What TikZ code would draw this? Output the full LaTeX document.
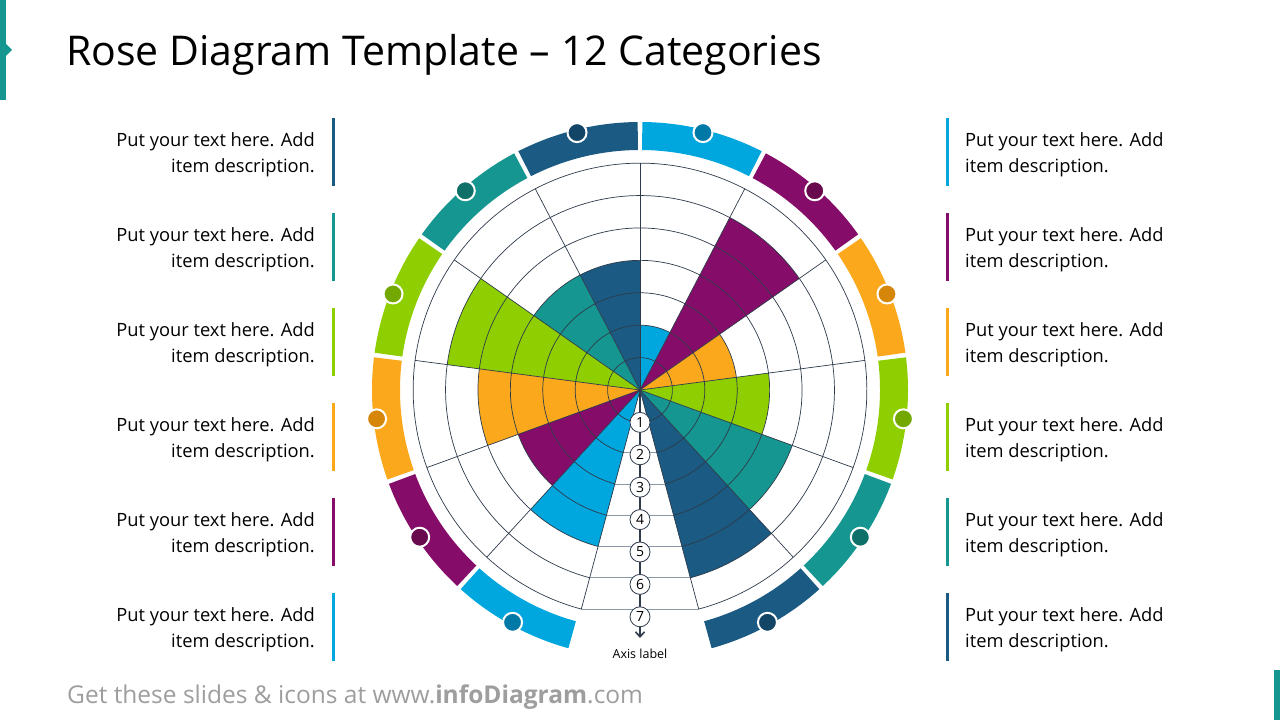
\documentclass[tikz,border=0pt]{standalone}
\usepackage{fontspec}
\setmainfont{Open Sans}
\usetikzlibrary{arrows.meta}
\definecolor{db}{HTML}{1B5A82}\definecolor{dbd}{HTML}{134566}
\definecolor{te}{HTML}{169690}\definecolor{ted}{HTML}{0F7069}
\definecolor{gr}{HTML}{8FCE00}\definecolor{grd}{HTML}{72A800}
\definecolor{or}{HTML}{FBA81C}\definecolor{ord}{HTML}{D6870A}
\definecolor{pu}{HTML}{850C68}\definecolor{pud}{HTML}{690A4F}
\definecolor{lb}{HTML}{00A6DE}\definecolor{lbd}{HTML}{0079A6}
\definecolor{gridc}{HTML}{2E3B4A}\definecolor{axc}{HTML}{8A98A8}
\tikzset{x=1pt,y=1pt,
 desc/.style={font=\fontsize{18.3}{26}\selectfont, text=black, inner sep=0pt},
 gridline/.style={draw=gridc, line width=0.7pt},
 tick/.style={circle, draw=gridc, fill=white, line width=0.8pt, minimum size=20pt, inner sep=0pt, font=\fontsize{14}{14}\selectfont}}
\begin{document}
\begin{tikzpicture}
\useasboundingbox (0,0) rectangle (1280,720);
\fill[white] (0,0) rectangle (1280,720);
% accents
\fill[te] (0,620) rectangle (6,720);
\fill[te] (6,676) -- (12,670) -- (6,664) -- cycle;
\fill[te] (1274,0) rectangle (1280,50);
\node[anchor=base west, inner sep=0pt, font=\fontsize{41}{41}\selectfont] (title) at (66,654) {Rose Diagram Template – 12 Categories};
\node[anchor=base west, inner sep=0pt, font=\fontsize{24.5}{24.5}\selectfont, text=black!38] (foot) at (67,16) {Get these slides \& icons at www.\textbf{infoDiagram}.com};
\begin{scope}[shift={(640,330)}]
\coordinate (C) at (0,0);
\def\u{32.4}
% sectors
\foreach \aa/\ab/\c/\v in {62.5/90/lb/2,35/62.5/pu/6,7.5/35/or/3,-20/7.5/gr/4,-47.5/-20/te/5,-75/-47.5/db/6,90/117.5/db/4,117.5/145/te/4,145/172.5/gr/6,172.5/200/or/5,200/227.5/pu/4,227.5/255/lb/5}{
  \fill[\c] (C) -- (\aa:\v*\u) arc[start angle=\aa, end angle=\ab, radius=\v*\u] -- cycle;
}
% grid rings
\foreach \k in {1,...,7}{
  \draw[gridline] (-75:\k*\u) arc[start angle=-75, end angle=255, radius=\k*\u];
  \draw[draw=axc, line width=0.7pt] (255:\k*\u) -- (285:\k*\u);
}
\foreach \a in {-47.5,-20,7.5,35,62.5,90,117.5,145,172.5,200,227.5}{
  \draw[gridline] (C) -- (\a:7*\u);
}
\draw[gridline] (C) -- (255:7*\u);
\draw[gridline] (C) -- (285:7*\u);
% outer band and dots
\foreach \aa/\ab/\c/\d in {62.5/90/lb/lbd,35/62.5/pu/pud,7.5/35/or/ord,-20/7.5/gr/grd,-47.5/-20/te/ted,-75/-47.5/db/dbd,90/117.5/db/dbd,117.5/145/te/ted,145/172.5/gr/grd,172.5/200/or/ord,200/227.5/pu/pud,227.5/255/lb/lbd}{
  \fill[\c] (\aa+0.5:240) arc[start angle=\aa+0.5, end angle=\ab-0.5, radius=240] -- (\ab-0.5:268) arc[start angle=\ab-0.5, end angle=\aa+0.5, radius=268] -- cycle;
  \fill[\d, draw=white, line width=2pt] ({(\aa+\ab)/2}:265) circle (9.5);
}
% axis
\coordinate (axend) at (0,-248);
\draw[draw=gridc, line width=1.6pt, -{Straight Barb[length=5pt,width=9pt]}] (C) -- (axend);
\foreach \k in {1,...,7}{
  \node[tick] (t\k) at (270:\k*\u) {\k};
}
\node[font=\fontsize{12.5}{12.5}\selectfont, anchor=north] (axl) at (0,-255) {Axis label};
\end{scope}
% descriptions
\foreach \i/\ca/\cb in {0/db/lb,1/te/pu,2/gr/or,3/or/gr,4/pu/te,5/lb/db}{
  \pgfmathsetmacro\yc{568-95*\i}
  \fill[\ca] (332,\yc-34) rectangle (335,\yc+34);
  \fill[\cb] (946,\yc-34) rectangle (949,\yc+34);
  \node[desc, anchor=east, align=right] (l\i) at (315,\yc-3) {Put your text here. Add\\item description.};
  \node[desc, anchor=west, align=left] (r\i) at (965,\yc-3) {Put your text here. Add\\item description.};
}
\end{tikzpicture}
\end{document}
